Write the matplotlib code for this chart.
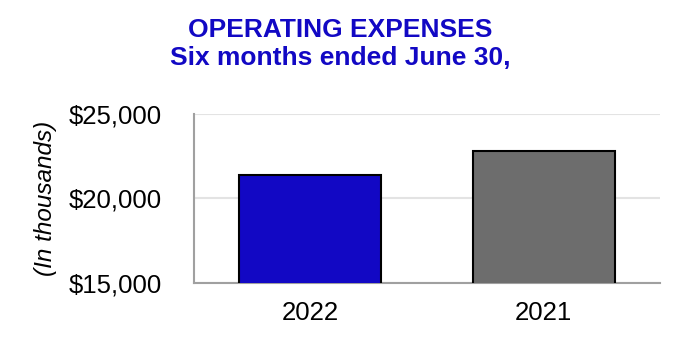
import matplotlib
matplotlib.use("Agg")
import matplotlib.pyplot as plt
from matplotlib.ticker import FuncFormatter

categories = ["2022", "2021"]
values = [21400, 22800]
colors = ["#1208C4", "#6D6D6D"]
yticks = [15000, 20000, 25000]

plt.rcParams['font.family'] = ['Liberation Sans', 'DejaVu Sans']

fig = plt.figure(figsize=(6.8, 3.5), dpi=100)
ax = fig.add_axes([0.2846, 0.1914, 0.6867, 0.4843])

x = list(range(len(categories)))
ax.bar(x, values, width=0.61, color=colors, edgecolor="black", linewidth=1.5, zorder=3)

ax.set_xlim(-0.5, 1.5)
ax.set_ylim(15000, 25000)
ax.set_yticks(yticks)
ax.yaxis.set_major_formatter(FuncFormatter(lambda v, p: f"${v:,.0f}"))
ax.set_xticks(x)
ax.set_xticklabels(categories)

ax.grid(axis="y", color="#e3e3e3", linewidth=1.5, zorder=0)
for s in ["top", "right"]:
    ax.spines[s].set_visible(False)
for s in ["left", "bottom"]:
    ax.spines[s].set_color("#a0a0a0")
    ax.spines[s].set_linewidth(1.5)

ax.tick_params(axis="y", length=0, labelsize=18.5, pad=23)
ax.tick_params(axis="x", length=0, labelsize=18.5, pad=13)

ax.set_ylabel("(In thousands)", fontsize=17.5, style="italic", labelpad=8)

fig.text(0.5, 1 - 30/350, "OPERATING EXPENSES", ha="center", va="center",
         fontsize=19, fontweight="bold", color="#1208C4")
fig.text(0.5, 1 - 58/350, "Six months ended June 30,", ha="center", va="center",
         fontsize=19, fontweight="bold", color="#1208C4")

fig.savefig("out.png", dpi=100)
